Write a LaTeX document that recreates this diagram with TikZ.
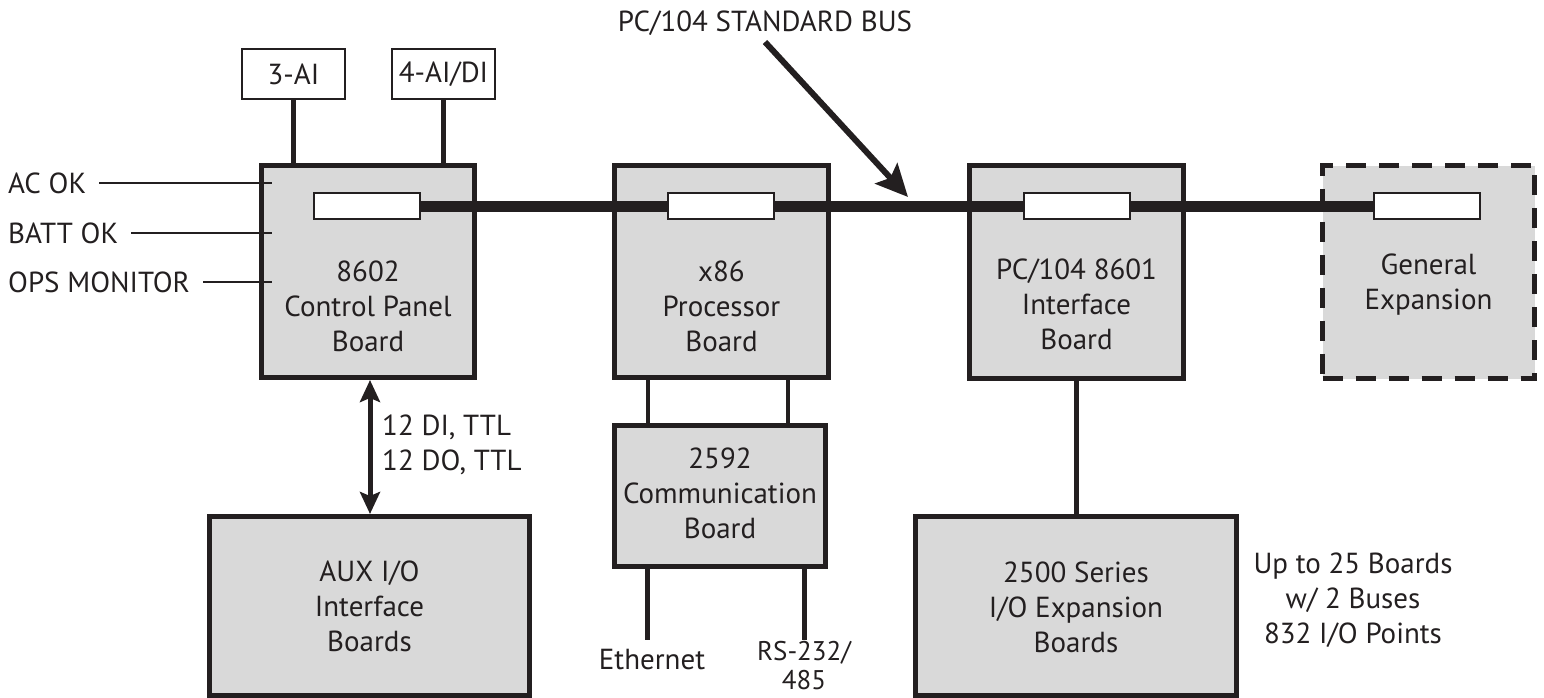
\documentclass[tikz,border=0pt]{standalone}
\usepackage{fontspec}
\setmainfont{PT Sans}
\usetikzlibrary{arrows.meta}
\definecolor{ink}{HTML}{231F20}
\definecolor{boardfill}{HTML}{D9D9D9}
\begin{document}
\begin{tikzpicture}[x=1pt,y=-1pt,
  every node/.style={text=ink, font=\fontsize{29}{35}\selectfont},
  board/.style={draw=ink, fill=boardfill, line width=5pt, inner sep=0pt},
  smallbox/.style={draw=ink, fill=white, line width=2pt, inner sep=0pt, minimum width=103pt, minimum height=50pt},
  slot/.style={draw=ink, fill=white, line width=2pt, inner sep=0pt, minimum width=106pt, minimum height=26pt},
  lbl/.style={align=center, inner sep=0pt},
  thickwire/.style={draw=ink, line width=5pt},
  thinwire/.style={draw=ink, line width=2.5pt},
  bus/.style={draw=ink, line width=11pt},
]
\useasboundingbox (0,0) rectangle (1544,698);

% boards
\node[board, minimum width=213pt, minimum height=212pt] (ctrl) at (368,271.5) {};
\node[board, minimum width=214pt, minimum height=212pt] (cpu) at (721.5,271.5) {};
\node[board, minimum width=214pt, minimum height=213pt] (intf) at (1076.5,272) {};
\node[board, dash pattern=on 20pt off 13pt, minimum width=212pt, minimum height=213pt] (exp) at (1428.5,272) {};
\node[board, minimum width=211pt, minimum height=141pt] (comm) at (720,496) {};
\node[board, minimum width=320pt, minimum height=179pt] (aux) at (369.5,606) {};
\node[board, minimum width=321pt, minimum height=179pt] (ser) at (1076,606) {};

% small input boxes
\node[smallbox] (ai3) at (293.5,74) {3-AI};
\node[smallbox] (ai4) at (443.5,74) {4-AI/DI};

% board labels
\node[lbl] (ctrlL) at (368,306) {8602\\Control Panel\\Board};
\node[lbl] (cpuL) at (721.5,306) {x86\\Processor\\Board};
\node[lbl] (intfL) at (1076.5,304) {PC/104 8601\\Interface\\Board};
\node[lbl] (expL) at (1428.5,285) {General\\Expansion};
\node[lbl] (commL) at (720,493) {2592\\Communication\\Board};
\node[lbl] (auxL) at (369.5,606) {AUX I/O\\Interface\\Boards};
\node[lbl] (serL) at (1076,607) {2500 Series\\I/O Expansion\\Boards};
\node[lbl] (upto) at (1353,600) {Up to 25 Boards\\w/ 2 Buses\\832 I/O Points};

% bus
\node[slot] (s1) at (367,206) {};
\node[slot] (s2) at (721,206) {};
\node[slot] (s3) at (1076.5,206) {};
\node[slot] (s4) at (1426.5,206) {};
\draw[bus] (s1.east) -- (s4.west);
\node[slot] at (367,206) {};
\node[slot] at (721,206) {};
\node[slot] at (1076.5,206) {};
\node[slot] at (1426.5,206) {};

% bus label and arrow
\node[lbl] (busL) at (765,23) {PC/104 STANDARD BUS};
\coordinate (busTail) at (765,42);
\coordinate (busTip) at (908,197);
\draw[draw=ink, line width=6pt, -{Stealth[length=32pt,width=30pt,inset=6pt]}] (busTail) -- (busTip);

% side inputs
\node[anchor=west, inner sep=0pt] (acok) at (8,183) {AC OK};
\node[anchor=west, inner sep=0pt] (batt) at (8,233) {BATT OK};
\node[anchor=west, inner sep=0pt] (ops) at (8,282) {OPS MONITOR};
\draw[thinwire] ([xshift=13pt]acok.east) -- ([xshift=13pt]acok.east -| ctrl.west);
\draw[thinwire] ([xshift=13pt]batt.east) -- ([xshift=13pt]batt.east -| ctrl.west);
\draw[thinwire] ([xshift=13pt]ops.east) -- ([xshift=13pt]ops.east -| ctrl.west);

% top connectors
\draw[thickwire] (ai3.south) -- (ai3.south |- ctrl.north);
\draw[thickwire] (ai4.south) -- (ai4.south |- ctrl.north);

% double arrow
\coordinate (dtop) at (370,380);
\coordinate (dbot) at (370,514);
\draw[draw=ink, line width=5pt, {Stealth[length=22pt,width=20pt,inset=4pt]}-{Stealth[length=22pt,width=20pt,inset=4pt]}] (ctrl.south -| dtop) -- (aux.north -| dbot);
\node[anchor=west, inner sep=0pt] (dio1) at (382,427) {12 DI, TTL};
\node[anchor=west, inner sep=0pt] (dio2) at (382,462) {12 DO, TTL};

% cpu to comm
\coordinate (c1) at (648,400);
\coordinate (c2) at (788,400);
\draw[draw=ink, line width=4pt] (cpu.south -| c1) -- (comm.north -| c1);
\draw[draw=ink, line width=4pt] (cpu.south -| c2) -- (comm.north -| c2);

% comm outputs
\node[lbl] (eth) at (652,660) {Ethernet};
\node[lbl, font=\fontsize{27}{29}\selectfont] (rs) at (804,666) {RS-232/\\485};
\coordinate (e1) at (647,640);
\coordinate (e2) at (804,640);
\draw[thickwire] (comm.south -| e1) -- (e1);
\draw[thickwire] (comm.south -| e2) -- (e2);

% interface to 2500
\draw[thickwire] (intf.south) -- (intf.south |- ser.north);
\end{tikzpicture}
\end{document}
